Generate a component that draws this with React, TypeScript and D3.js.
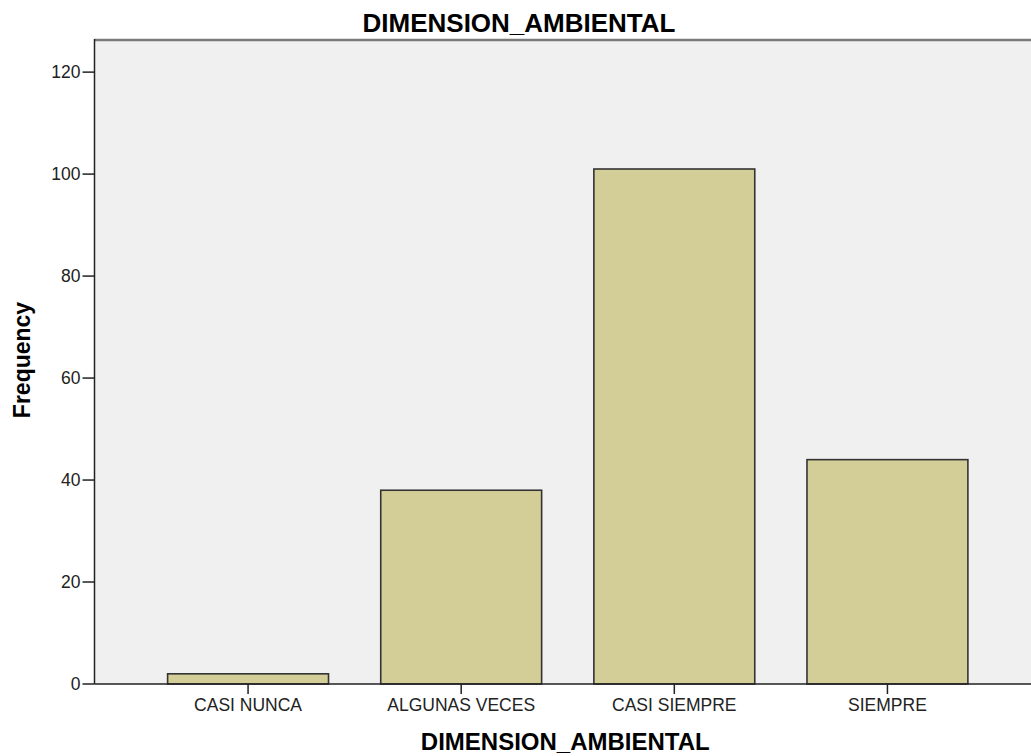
import { useEffect, useRef } from 'react';
import * as d3 from 'd3';

const categories = ['CASI NUNCA', 'ALGUNAS VECES', 'CASI SIEMPRE', 'SIEMPRE'];
const frequencies = [2, 38, 101, 44];
const yTicks = [0, 20, 40, 60, 80, 100, 120];
const chartTitle = 'DIMENSION_AMBIENTAL';
const xTitle = 'DIMENSION_AMBIENTAL';
const yTitle = 'Frequency';

export default function App() {
  const svgRef = useRef<SVGSVGElement>(null);

  const width = 1031;
  const height = 756;
  const left = 94.5;
  const right = 1036;
  const top = 40;
  const bottom = 684;

  useEffect(() => {
    const svg = d3.select(svgRef.current);
    svg.selectAll('*').remove();
    const font = '"Liberation Sans", Arial, sans-serif';

    const yScale = d3.scaleLinear().domain([0, 126.3]).range([bottom, top]);
    const xScale = d3.scaleBand<string>()
      .domain(categories)
      .range([141.5, 994])
      .paddingInner(0.245)
      .paddingOuter(0.1225);

    // fondo del área de gráfico
    svg.append('rect')
      .attr('x', left).attr('y', top)
      .attr('width', right - left).attr('height', bottom - top)
      .attr('fill', '#f0f0f0');

    svg.append('line')
      .attr('x1', left).attr('x2', right)
      .attr('y1', top).attr('y2', top)
      .attr('stroke', '#7a7a7a').attr('stroke-width', 2.5);

    // barras
    svg.append('g')
      .selectAll('rect')
      .data(frequencies)
      .enter()
      .append('rect')
      .attr('x', (d, i) => xScale(categories[i])!)
      .attr('y', d => yScale(d))
      .attr('width', xScale.bandwidth())
      .attr('height', d => bottom - yScale(d))
      .attr('fill', '#d3ce97')
      .attr('stroke', '#333')
      .attr('stroke-width', 1.6);

    // eje Y
    const yAxis = svg.append('g');
    yAxis.append('line')
      .attr('x1', left).attr('x2', left)
      .attr('y1', top - 1).attr('y2', bottom)
      .attr('stroke', '#222').attr('stroke-width', 1.5);
    yAxis.selectAll('line.tick')
      .data(yTicks)
      .enter()
      .append('line')
      .attr('class', 'tick')
      .attr('x1', left - 12).attr('x2', left)
      .attr('y1', d => yScale(d)).attr('y2', d => yScale(d))
      .attr('stroke', '#222').attr('stroke-width', 1.5);
    yAxis.selectAll('text')
      .data(yTicks)
      .enter()
      .append('text')
      .attr('x', left - 14)
      .attr('y', d => yScale(d))
      .attr('dy', '0.36em')
      .attr('text-anchor', 'end')
      .attr('font-family', font)
      .attr('font-size', 17.5)
      .attr('fill', '#222')
      .text(d => d);

    // eje X
    const xAxis = svg.append('g');
    xAxis.append('line')
      .attr('x1', left).attr('x2', right)
      .attr('y1', bottom).attr('y2', bottom)
      .attr('stroke', '#222').attr('stroke-width', 1.5);
    xAxis.selectAll('line.tick')
      .data(categories)
      .enter()
      .append('line')
      .attr('class', 'tick')
      .attr('x1', d => xScale(d)! + xScale.bandwidth() / 2)
      .attr('x2', d => xScale(d)! + xScale.bandwidth() / 2)
      .attr('y1', bottom).attr('y2', bottom + 10)
      .attr('stroke', '#222').attr('stroke-width', 1.5);
    xAxis.selectAll('text')
      .data(categories)
      .enter()
      .append('text')
      .attr('x', d => xScale(d)! + xScale.bandwidth() / 2)
      .attr('y', 711)
      .attr('text-anchor', 'middle')
      .attr('font-family', font)
      .attr('font-size', 17.5)
      .attr('fill', '#222')
      .text(d => d);

    // títulos
    svg.append('text')
      .attr('x', 519).attr('y', 32.3)
      .attr('text-anchor', 'middle')
      .attr('font-family', font)
      .attr('font-weight', 'bold')
      .attr('font-size', 26)
      .attr('fill', '#000')
      .text(chartTitle);

    svg.append('text')
      .attr('x', (left + right) / 2).attr('y', 750)
      .attr('text-anchor', 'middle')
      .attr('font-family', font)
      .attr('font-weight', 'bold')
      .attr('font-size', 24)
      .attr('fill', '#000')
      .text(xTitle);

    svg.append('text')
      .attr('transform', `translate(30,360) rotate(-90)`)
      .attr('text-anchor', 'middle')
      .attr('font-family', font)
      .attr('font-weight', 'bold')
      .attr('font-size', 23)
      .attr('fill', '#000')
      .text(yTitle);
  }, []);

  return (
    <svg
      ref={svgRef}
      width={width}
      height={height}
      style={{ position: 'absolute', top: 0, left: 0, background: '#fff' }}
    />
  );
}
